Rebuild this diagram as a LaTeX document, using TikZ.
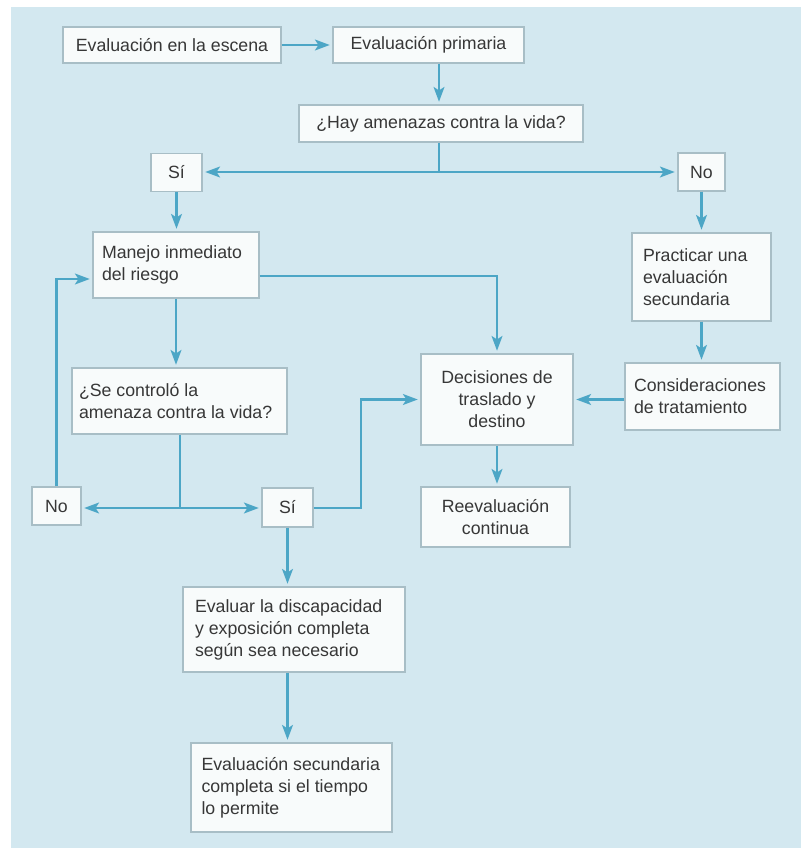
\documentclass[tikz,border=0pt]{standalone}
\usepackage{fontspec}
\setmainfont{Liberation Sans}
\usetikzlibrary{arrows.meta, calc}
\definecolor{fondo}{RGB}{211,232,240}
\definecolor{flecha}{RGB}{76,166,198}
\definecolor{borde}{RGB}{168,190,198}
\definecolor{caja}{RGB}{248,251,251}
\definecolor{texto}{RGB}{55,55,55}

\begin{document}
\begin{tikzpicture}[x=0.75pt, y=-0.75pt,
  box/.style={draw=borde, line width=0.8pt, fill=caja, text=texto,
    font=\fontsize{13.3}{16.5}\selectfont, inner sep=0pt},
  boxsize/.style 2 args={minimum width=#1*0.75pt, minimum height=#2*0.75pt},
  lbox/.style={box, align=flush left, text width=#1*0.75pt},
  cbox/.style={box, align=center},
  link/.style={draw=flecha, line width=2.2pt},
  arr/.style={link, -{Stealth[length=11pt, width=8pt, inset=2.5pt]}, shorten >=2pt}]
  \useasboundingbox (0,0) rectangle (801,848);
  \fill[white] (0,0) rectangle (801,848);
  \fill[fondo] (11,7) rectangle (801,848);
  % top row
  \node[cbox, boxsize={218}{36}] (escena) at (172,45) {Evaluación en la escena};
  \node[cbox, boxsize={191}{36}] (primaria) at (428.5,45) {Evaluación primaria};
  \node[cbox, boxsize={284}{37}] (amenaza) at (441,123.5) {¿Hay amenazas contra la vida?};
  \node[cbox, boxsize={51}{38}] (si1) at (176.5,172.5) {Sí};
  \node[cbox, boxsize={47}{38}] (no1) at (701.5,172) {No};
  % left branch
  \node[lbox=148, boxsize={166}{66}] (manejo) at (176,265) {Manejo inmediato\\del riesgo};
  \node[lbox=201, boxsize={215}{66}] (controlo) at (179.5,401) {¿Se controló la\\amenaza contra la vida?};
  \node[cbox, boxsize={49}{38}] (no2) at (56.5,506) {No};
  \node[cbox, boxsize={51}{39}] (si2) at (287.5,507.5) {Sí};
  \node[lbox=198, boxsize={222}{85}] (evaluar) at (294,629.5) {Evaluar la discapacidad\\y exposición completa\\según sea necesario};
  \node[lbox=180, boxsize={201}{89}] (secundaria) at (291.5,787.5) {Evaluación secundaria\\completa si el tiempo\\lo permite};
  % right branch
  \node[lbox=117, boxsize={139}{88}] (practicar) at (701.5,277) {Practicar una\\evaluación\\secundaria};
  \node[lbox=137, boxsize={155}{67}] (consid) at (702.5,396.5) {Consideraciones\\de tratamiento};
  \node[cbox, boxsize={152}{91}] (decisiones) at (497,399.5) {Decisiones de\\traslado y\\destino};
  \node[cbox, boxsize={149}{60}] (reeval) at (495.5,517) {Reevaluación\\continua};
  % junctions
  \coordinate (j1) at (439,172);
  \coordinate (j2) at (180,508);
  \coordinate (k1) at (497,276);
  \coordinate (k2) at (56.5,279);
  \coordinate (k3) at (361,508);
  \coordinate (k4) at (361,399.5);
  % connectors
  \draw[arr] (escena.east) -- (primaria.west);
  \draw[arr] (primaria.south -| j1) -- (amenaza.north -| j1);
  \draw[link] (amenaza.south -| j1) -- (j1);
  \draw[arr] (j1) -- (j1 -| si1.east);
  \draw[arr] (j1) -- (j1 -| no1.west);
  \draw[arr] (si1.south) -- (si1.south |- manejo.north);
  \draw[arr] (manejo.east |- k1) -- (k1) -- (decisiones.north);
  \draw[arr] (manejo.south) -- (manejo.south |- controlo.north);
  \draw[link] (controlo.south -| j2) -- (j2);
  \draw[arr] (j2) -- (j2 -| no2.east);
  \draw[arr] (j2) -- (j2 -| si2.west);
  \draw[arr] (no2.north) -- (k2) -- (k2 -| manejo.west);
  \draw[arr] (si2.east |- k3) -- (k3) -- (k4) -- (decisiones.west);
  \draw[arr] (si2.south) -- (si2.south |- evaluar.north);
  \draw[arr] (si2.south |- evaluar.south) -- (si2.south |- secundaria.north);
  \draw[arr] (no1.south) -- (no1.south |- practicar.north);
  \draw[arr] (practicar.south) -- (practicar.south |- consid.north);
  \draw[arr] (consid.west |- decisiones.east) -- (decisiones.east);
  \draw[arr] (decisiones.south) -- (decisiones.south |- reeval.north);
\end{tikzpicture}
\end{document}
